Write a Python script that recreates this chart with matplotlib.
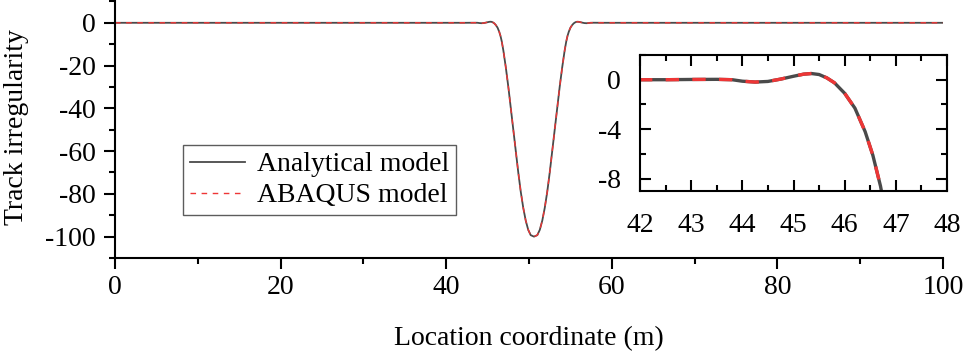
import numpy as np
import matplotlib.pyplot as plt
from matplotlib.ticker import MultipleLocator

plt.rcParams['font.family'] = ['Liberation Serif', 'DejaVu Serif']
plt.rcParams['axes.unicode_minus'] = False

# location (m) and irregularity
location = [0, 10, 20, 30, 40, 42, 42.5, 43.0, 43.5, 43.8, 44.0, 44.25, 44.5, 44.75,
            45.0, 45.2, 45.35, 45.5, 45.65, 45.8, 46.0, 46.2, 46.4, 46.55, 46.7,
            46.9, 47.2, 47.5, 47.8, 48.1, 48.4, 48.7, 49.0, 49.3, 49.6, 49.9,
            50.2, 50.6, 51.0, 51.3, 51.6, 51.9, 52.2, 52.5, 52.8, 53.1, 53.4,
            53.7, 54.0, 54.3, 54.5, 54.65, 54.8, 55.0, 55.2, 55.4, 55.55, 55.7,
            55.85, 56.0, 56.2, 56.45, 56.7, 56.95, 57.2, 57.4, 57.7, 58.2, 59,
            60, 70, 80, 90, 100]
analytical_y = [0, 0, 0, 0, 0, 0, 0, 0.02, 0.03, 0.0, -0.12, -0.19, -0.14, 0.05,
                0.28, 0.45, 0.5, 0.42, 0.15, -0.25, -1.1, -2.3, -4.2, -6.1, -8.6,
                -13, -21, -30, -40, -50, -60, -70, -79, -86.5, -92.5, -96.8,
                -99.3, -100, -99.3, -96.8, -92.5, -86.5, -79, -70, -60, -50, -40,
                -30, -21, -13, -8.6, -6.1, -4.2, -2.3, -1.1, -0.25, 0.15, 0.42,
                0.5, 0.45, 0.28, 0.05, -0.14, -0.19, -0.12, 0.0, 0.03, 0.02, 0,
                0, 0, 0, 0, 0]
# the two models coincide at the resolution of the picture
abaqus_y = list(analytical_y)

x = np.array(location)
y1 = np.array(analytical_y)
y2 = np.array(abaqus_y)

gray = '#4a4a4a'
red = '#ee3636'

fig = plt.figure(figsize=(9.7, 3.52), dpi=100)
ax = fig.add_axes([0.1186, 0.267, 0.8536, 0.729])

ax.plot(x, y1, color=gray, lw=1.3, label='Analytical model')
ax.plot(x, y2, color=red, lw=1.0, linestyle=(0, (4, 4)), label='ABAQUS model')

ax.set_xlim(0, 100)
ax.set_ylim(-110, 10)
ax.xaxis.set_major_locator(MultipleLocator(20))
ax.xaxis.set_minor_locator(MultipleLocator(10))
ax.yaxis.set_major_locator(MultipleLocator(20))
ax.yaxis.set_minor_locator(MultipleLocator(10))
ax.spines['top'].set_visible(False)
ax.spines['right'].set_visible(False)
for s in ['left', 'bottom']:
    ax.spines[s].set_linewidth(1.5)
ax.tick_params(which='major', direction='out', length=8, width=1.5, labelsize=20)
ax.tick_params(axis='x', pad=4.5)
ax.tick_params(axis='y', pad=6)
ax.tick_params(which='minor', direction='out', length=4.5, width=1.5)
ax.set_xlabel('Location coordinate (m)', fontsize=20)
ax.set_ylabel('Track irregularity', fontsize=20)
ax.xaxis.set_label_coords(0.5, -0.265)
ax.yaxis.set_label_coords(-0.104, 0.51)

leg = ax.legend(loc='upper left', bbox_to_anchor=(0.082, 0.44), borderaxespad=0,
                fontsize=20, frameon=True, fancybox=False, handlelength=2.0,
                handletextpad=0.4, labelspacing=0.2, borderpad=0.25)
leg.get_frame().set_edgecolor('#333333')
leg.get_frame().set_linewidth(1.0)

# inset
axi = fig.add_axes([0.6598, 0.4574, 0.3165, 0.3864])
axi.plot(x, y1, color=gray, lw=2.4)
axi.plot(x, y2, color=red, lw=2.4, linestyle=(0, (4, 4)))
axi.set_xlim(42, 48)
axi.set_ylim(-9, 2)
axi.xaxis.set_major_locator(MultipleLocator(1))
axi.xaxis.set_minor_locator(MultipleLocator(0.5))
axi.yaxis.set_major_locator(MultipleLocator(4))
axi.yaxis.set_minor_locator(MultipleLocator(2))
for s in axi.spines.values():
    s.set_linewidth(1.5)
axi.tick_params(which='major', direction='in', length=8, width=1.5, labelsize=20,
                top=True, right=True)
axi.tick_params(which='minor', direction='in', length=4.5, width=1.5, top=True, right=True)
axi.tick_params(axis='x', pad=16)
axi.tick_params(axis='y', pad=14)

fig.savefig('out.png', dpi=100)
